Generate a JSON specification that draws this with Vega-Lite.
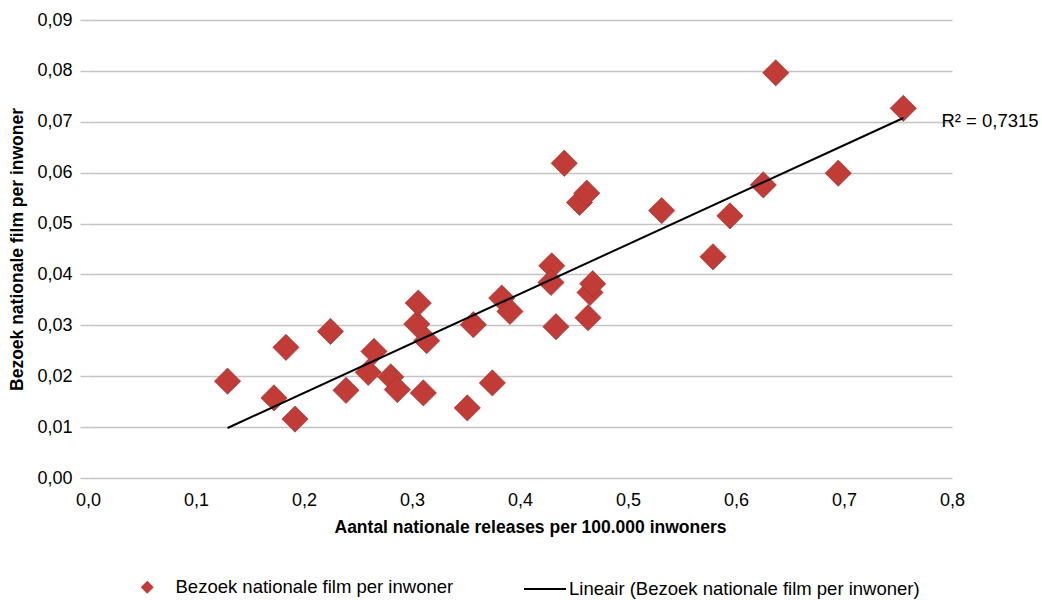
{
  "$schema": "https://vega.github.io/schema/vega-lite/v6.json",
  "autosize": "none",
  "width": 864,
  "height": 458,
  "padding": {"left": 88, "top": 20, "right": 90, "bottom": 122},
  "background": "white",
  "config": {
    "locale": {"number": {"decimal": ",", "thousands": ".", "grouping": [3], "currency": ["€", ""]}},
    "font": "Liberation Sans",
    "view": {"stroke": null},
    "axis": {"labelFont": "Liberation Sans", "titleFont": "Liberation Sans", "labelFontSize": 18, "titleFontSize": 17.5, "labelColor": "#000000", "titleColor": "#000000", "titleFontWeight": "bold"},
    "legend": {"labelFont": "Liberation Sans", "labelFontSize": 18.5, "labelColor": "#000000", "labelLimit": 0}
  },
  "data": {
    "values": [
      {"x": 0.1292, "y": 0.01903},
      {"x": 0.1722, "y": 0.01574},
      {"x": 0.1917, "y": 0.01158},
      {"x": 0.1833, "y": 0.02567},
      {"x": 0.2245, "y": 0.02881},
      {"x": 0.2389, "y": 0.01723},
      {"x": 0.2595, "y": 0.02076},
      {"x": 0.2648, "y": 0.02488},
      {"x": 0.2803, "y": 0.01986},
      {"x": 0.2864, "y": 0.01737},
      {"x": 0.3044, "y": 0.03026},
      {"x": 0.3058, "y": 0.03438},
      {"x": 0.3136, "y": 0.02698},
      {"x": 0.3105, "y": 0.01672},
      {"x": 0.3512, "y": 0.01378},
      {"x": 0.3568, "y": 0.03012},
      {"x": 0.3744, "y": 0.01868},
      {"x": 0.3831, "y": 0.03536},
      {"x": 0.3907, "y": 0.03273},
      {"x": 0.4294, "y": 0.0417},
      {"x": 0.4287, "y": 0.03842},
      {"x": 0.4333, "y": 0.02973},
      {"x": 0.4410, "y": 0.06185},
      {"x": 0.4551, "y": 0.05416},
      {"x": 0.4618, "y": 0.05597},
      {"x": 0.4630, "y": 0.0315},
      {"x": 0.4648, "y": 0.03646},
      {"x": 0.4673, "y": 0.03817},
      {"x": 0.5312, "y": 0.05255},
      {"x": 0.5787, "y": 0.04347},
      {"x": 0.5944, "y": 0.05151},
      {"x": 0.6253, "y": 0.05759},
      {"x": 0.6368, "y": 0.07963},
      {"x": 0.6947, "y": 0.05989},
      {"x": 0.7549, "y": 0.07265}
    ]
  },
  "encoding": {
    "x": {"field": "x", "type": "quantitative", "scale": {"domain": [0, 0.8], "nice": false, "zero": false},
      "axis": {"title": "Aantal nationale releases per 100.000 inwoners", "titleX": 442, "format": ".1f", "values": [0, 0.1, 0.2, 0.3, 0.4, 0.5, 0.6, 0.7, 0.8], "labelOverlap": false, "labelFlush": false, "grid": false, "domain": false, "ticks": false, "labelPadding": 13, "titlePadding": 9}},
    "y": {"field": "y", "type": "quantitative", "scale": {"domain": [0, 0.09], "nice": false},
      "axis": {"title": "Bezoek nationale film per inwoner", "format": ".2f", "values": [0, 0.01, 0.02, 0.03, 0.04, 0.05, 0.06, 0.07, 0.08, 0.09], "labelOverlap": false, "labelFlush": false, "grid": true, "gridColor": "#c4c4c4", "gridWidth": 1.5, "domain": false, "ticks": true, "tickSize": 8, "tickColor": "#c4c4c4", "tickWidth": 1.5, "labelPadding": 8, "titlePadding": 10}}
  },
  "layer": [
    {
      "mark": {"type": "point", "shape": "diamond", "filled": true, "size": 690, "opacity": 1, "stroke": "#9a2b28", "strokeWidth": 0.6},
      "encoding": {
        "color": {"datum": "Bezoek nationale film per inwoner", "type": "nominal", "scale": {"range": ["#c13b37"]},
          "legend": {"title": null, "orient": "none", "legendX": 50, "legendY": 558, "symbolType": "diamond", "symbolSize": 170, "labelOffset": 19, "padding": 0, "symbolStrokeWidth": 0}}
      }
    },
    {
      "transform": [{"regression": "y", "on": "x"}],
      "mark": {"type": "line", "strokeWidth": 2},
      "encoding": {
        "stroke": {"datum": "Lineair (Bezoek nationale film per inwoner)", "type": "nominal", "scale": {"range": ["#000000"]},
          "legend": {"title": null, "orient": "none", "legendX": 435, "legendY": 547, "symbolType": "stroke", "symbolSize": 1764, "symbolStrokeWidth": 2, "labelOffset": 2, "padding": 0}}
      }
    },
    {
      "data": {"values": [{"x": 0.755, "y": 0.0707, "label": "R² = 0,7315"}]},
      "mark": {"type": "text", "align": "left", "baseline": "middle", "dx": 38, "dy": 3, "fontSize": 18.5, "font": "Liberation Sans", "color": "#000000"},
      "encoding": {"text": {"field": "label", "type": "nominal"}}
    }
  ]
}
